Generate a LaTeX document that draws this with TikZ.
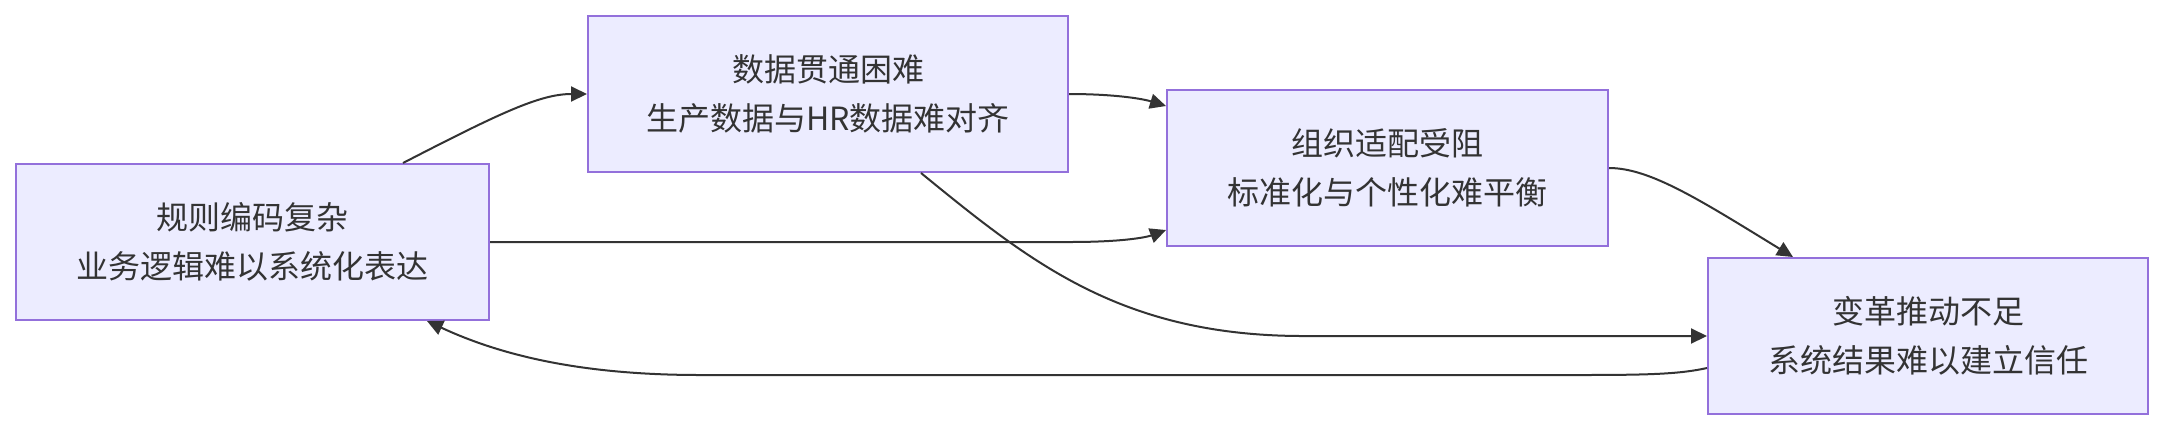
\documentclass[tikz,border=0pt]{standalone}
\usepackage{fontspec}
\newfontfamily\cjk{Noto Sans CJK SC}
\usetikzlibrary{arrows.meta,calc}
\definecolor{boxfill}{HTML}{ECECFF}
\definecolor{boxdraw}{HTML}{9370DB}
\definecolor{ink}{HTML}{333333}
\begin{document}
\begin{tikzpicture}[x=0.5pt,y=-0.5pt,
  box/.style={draw=boxdraw, fill=boxfill, line width=1pt, minimum height=78pt, inner sep=0pt, align=center, text=ink, font=\cjk\fontsize{16pt}{24.5pt}\selectfont},
  edge/.style={draw=ink, line width=1pt, -{Triangle[length=8pt,width=7.5pt]}}]
\useasboundingbox (0,0) rectangle (2163,430);
\node[box, minimum width=236.5pt] (A) at (252.5,242) {规则编码复杂\\业务逻辑难以系统化表达};
\node[box, minimum width=240pt] (B) at (828,94) {数据贯通困难\\生产数据与HR数据难对齐};
\node[box, minimum width=220.5pt] (C) at (1387.5,168) {组织适配受阻\\标准化与个性化难平衡};
\node[box, minimum width=220pt] (D) at (1928,336) {变革推动不足\\系统结果难以建立信任};
% A -> B
\draw[edge] ($(A.north west)+(388,0)$) .. controls (500,113) and (540,94) .. (B.west);
% B -> C
\draw[edge] (B.east) .. controls (1110,94) and (1140,98) .. ($(C.west)+(0,-62)$);
% A -> C
\draw[edge] (A.east) -- (1070,242) .. controls (1130,242) and (1150,236) .. ($(C.west)+(0,62)$);
% B -> D
\draw[edge] ($(B.south west)+(334,0)$) .. controls (1030,262) and (1120,335) .. (1300,336) -- (D.west);
% C -> D
\draw[edge] (C.east) .. controls (1650,168) and (1700,200) .. ($(D.north west)+(86,0)$);
% D -> A
\draw[edge] ($(D.west)+(0,32)$) .. controls (1680,374) and (1650,375) .. (1580,375) -- (700,375) .. controls (580,375) and (500,355) .. ($(A.south west)+(412,0)$);
\end{tikzpicture}
\end{document}
